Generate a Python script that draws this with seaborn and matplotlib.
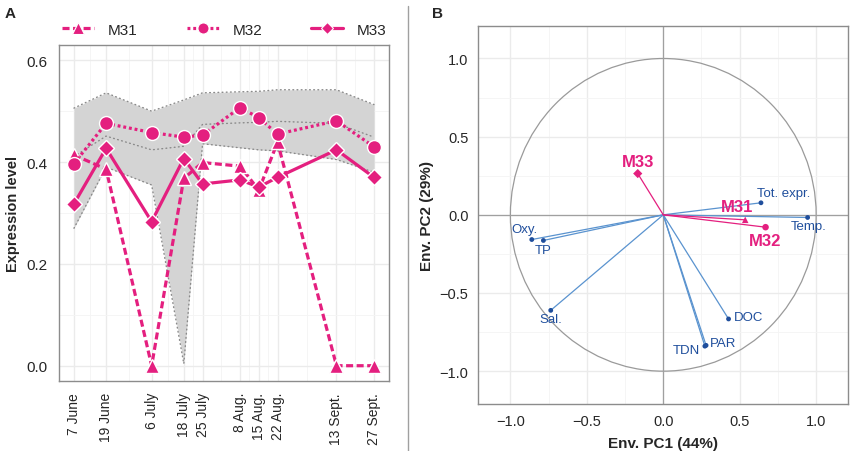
import numpy as np
import pandas as pd
import seaborn as sns
import matplotlib.pyplot as plt
import matplotlib.dates as mdates
from matplotlib.lines import Line2D
from matplotlib.patches import Circle
from matplotlib.ticker import FixedLocator, MultipleLocator

# ===============================
# Data
# ===============================
dates = ["2011-06-07", "2011-06-19", "2011-07-06", "2011-07-18", "2011-07-25",
         "2011-08-08", "2011-08-15", "2011-08-22", "2011-09-13", "2011-09-27"]
date_labels = ["7 June", "19 June", "6 July", "18 July", "25 July",
               "8 Aug.", "15 Aug.", "22 Aug.", "13 Sept.", "27 Sept."]

m31 = [0.414, 0.386, 0.0, 0.368, 0.399, 0.392, 0.345, 0.439, 0.0, 0.0]
m32 = [0.397, 0.476, 0.458, 0.449, 0.453, 0.507, 0.487, 0.455, 0.481, 0.430]
m33 = [0.318, 0.427, 0.283, 0.407, 0.357, 0.365, 0.351, 0.370, 0.424, 0.370]

band_hi = [0.506, 0.536, 0.500, 0.522, 0.536, 0.538, 0.539, 0.542, 0.542, 0.513]
band_mid = [0.411, 0.451, 0.424, 0.431, 0.474, 0.477, 0.478, 0.480, 0.476, 0.449]
band_lo = [0.270, 0.390, 0.355, 0.004, 0.436, 0.428, 0.424, 0.422, 0.405, 0.380]

# PCA loadings
env_names = ["Tot. expr.", "Temp.", "Oxy.", "TP", "Sal.", "DOC", "PAR", "TDN"]
env_pc1 = [0.639, 0.944, -0.860, -0.784, -0.736, 0.427, 0.280, 0.272]
env_pc2 = [0.077, -0.017, -0.158, -0.164, -0.611, -0.666, -0.835, -0.840]

mod_names = ["M31", "M32", "M33"]
mod_pc1 = [0.536, 0.669, -0.167]
mod_pc2 = [-0.032, -0.079, 0.264]

# ===============================
# Style
# ===============================
PINK = "#E41F7F"
ENV_LINE = "#5A93CF"
ENV_TEXT = "#1F4E9C"
GRID = "#EBEBEB"

sns.set_style("white")
plt.rcParams["font.family"] = ["Liberation Sans", "DejaVu Sans"]
plt.rcParams["font.size"] = 10

fig = plt.figure(figsize=(8.51, 4.52), dpi=100)
ax1 = fig.add_axes([0.0693, 0.1549, 0.3878, 0.7434])
ax2 = fig.add_axes([0.562, 0.104, 0.4348, 0.837])

# ===============================
# Panel A: expression over time
# ===============================
df = pd.DataFrame({
    "date": pd.to_datetime(dates),
    "M31": m31, "M32": m32, "M33": m33,
    "hi": band_hi, "mid": band_mid, "lo": band_lo,
})

ax1.fill_between(df["date"], df["lo"], df["hi"], color="#D4D4D4", lw=0, zorder=1)
for col in ["hi", "mid", "lo"]:
    ax1.plot(df["date"], df[col], color="#8A8A8A", lw=1.0, ls=(0, (0.6, 2.4)),
             dash_capstyle="round", zorder=2)

series = [
    ("M31", "^", (0, (2.2, 1.1)), 10),
    ("M32", "o", (0, (0.9, 0.9)), 10),
    ("M33", "D", "-", 8),
]
handles = []
for name, mk, ls, ms in series:
    sns.lineplot(data=df, x="date", y=name, ax=ax1, color=PINK, lw=2.3,
                 linestyle=ls, marker=mk, markersize=ms,
                 markeredgecolor="white", markeredgewidth=1.0, zorder=3)
    handles.append(Line2D([], [], color=PINK, lw=2.3, linestyle=ls, marker=mk,
                          markersize=ms * 0.8, markeredgecolor="white",
                          markeredgewidth=0.8, label=name))

xnum = mdates.date2num(df["date"])
span = xnum[-1] - xnum[0]
ax1.set_xlim(xnum[0] - 0.05 * span, xnum[-1] + 0.05 * span)
ax1.set_ylim(-0.03, 0.63)
ax1.xaxis.set_major_locator(FixedLocator(xnum))
ax1.xaxis.set_minor_locator(FixedLocator((xnum[:-1] + xnum[1:]) / 2))
ax1.set_xticklabels(date_labels, rotation=90)
ax1.yaxis.set_major_locator(FixedLocator([0.0, 0.2, 0.4, 0.6]))
ax1.yaxis.set_minor_locator(FixedLocator([0.1, 0.3, 0.5]))
ax1.set_yticklabels(["0.0", "0.2", "0.4", "0.6"])
ax1.grid(which="major", color=GRID, lw=1.0, zorder=0)
ax1.grid(which="minor", color="#F4F4F4", lw=0.6, zorder=0)
ax1.set_axisbelow(True)
ax1.tick_params(which="major", length=5, width=1.3, color="#222222",
                labelsize=10, pad=3)
ax1.tick_params(axis="y", labelsize=11)
ax1.tick_params(which="minor", length=0)
ax1.set_xlabel("")
ax1.set_ylabel("Expression level", fontsize=10.5, fontweight="bold", labelpad=5)
for s in ax1.spines.values():
    s.set_color("#8C8C8C")
    s.set_linewidth(1.0)

fig.legend(handles=handles, loc="center", bbox_to_anchor=(0.264, 0.932),
           ncol=3, frameon=False, fontsize=11, handlelength=2.1,
           columnspacing=3.2, handletextpad=0.9)

# ===============================
# Panel B: correlation circle
# ===============================
ax2.add_patch(Circle((0, 0), 1.0, fill=False, ec="#9A9A9A", lw=0.9, zorder=2))
ax2.axhline(0, color="#A0A0A0", lw=0.9, zorder=2)
ax2.axvline(0, color="#A0A0A0", lw=0.9, zorder=2)

for x, y in zip(env_pc1, env_pc2):
    ax2.plot([0, x], [0, y], color=ENV_LINE, lw=0.9, zorder=3)
sns.scatterplot(x=env_pc1, y=env_pc2, ax=ax2, color=ENV_TEXT, s=12,
                edgecolor="none", zorder=4, legend=False)

for x, y in zip(mod_pc1, mod_pc2):
    ax2.plot([0, x], [0, y], color=PINK, lw=0.9, zorder=3)
sns.scatterplot(x=mod_pc1, y=mod_pc2, ax=ax2, color=PINK, s=22,
                style=mod_names, markers={"M31": "^", "M32": "o", "M33": "D"},
                edgecolor="none", zorder=4, legend=False)

env_offsets = {
    "Tot. expr.": (0.146, 0.061), "Temp.": (0.004, -0.055),
    "Oxy.": (-0.048, 0.069), "TP": (0.0, -0.059), "Sal.": (0.0, -0.057),
    "DOC": (0.129, 0.013), "PAR": (0.112, 0.012), "TDN": (-0.119, -0.022),
}
for name, x, y in zip(env_names, env_pc1, env_pc2):
    dx, dy = env_offsets[name]
    ax2.text(x + dx, y + dy, name, color=ENV_TEXT, fontsize=9.5,
             ha="center", va="center", zorder=5)

mod_offsets = {"M31": (-0.052, 0.085), "M32": (0.0, -0.085), "M33": (0.0, 0.076)}
for name, x, y in zip(mod_names, mod_pc1, mod_pc2):
    dx, dy = mod_offsets[name]
    ax2.text(x + dx, y + dy, name, color=PINK, fontsize=12, fontweight="bold",
             ha="center", va="center", zorder=5)

ax2.set_xlim(-1.21, 1.21)
ax2.set_ylim(-1.21, 1.21)
ax2.xaxis.set_minor_locator(FixedLocator([-0.75, -0.25, 0.25, 0.75]))
ax2.yaxis.set_minor_locator(FixedLocator([-0.75, -0.25, 0.25, 0.75]))
ax2.set_xticks([-1.0, -0.5, 0.0, 0.5, 1.0])
ax2.set_xticklabels(["\u22121.0", "\u22120.5", "0.0", "0.5", "1.0"])
ax2.set_yticks([-1.0, -0.5, 0.0, 0.5, 1.0])
ax2.set_yticklabels(["\u22121.0", "\u22120.5", "0.0", "0.5", "1.0"])
ax2.grid(which="major", color=GRID, lw=1.0, zorder=0)
ax2.grid(which="minor", color="#F4F4F4", lw=0.6, zorder=0)
ax2.set_axisbelow(True)
ax2.tick_params(which="major", length=3, width=0.8, color="#8C8C8C",
                labelsize=10.5, pad=4)
ax2.tick_params(which="minor", length=0)
ax2.set_xlabel("Env. PC1 (44%)", fontsize=11, fontweight="bold", labelpad=6)
ax2.set_ylabel("Env. PC2 (29%)", fontsize=11, fontweight="bold", labelpad=4)
for s in ax2.spines.values():
    s.set_color("#8C8C8C")
    s.set_linewidth(1.0)

# panel letters and separator
fig.text(0.006, 0.968, "A", fontsize=11, fontweight="bold", va="center")
fig.text(0.508, 0.968, "B", fontsize=11, fontweight="bold", va="center")
fig.add_artist(Line2D([0.479, 0.479], [0.0, 0.985], color="#A0A0A0", lw=1.0,
                      transform=fig.transFigure))

fig.savefig("out.png", dpi=100)
